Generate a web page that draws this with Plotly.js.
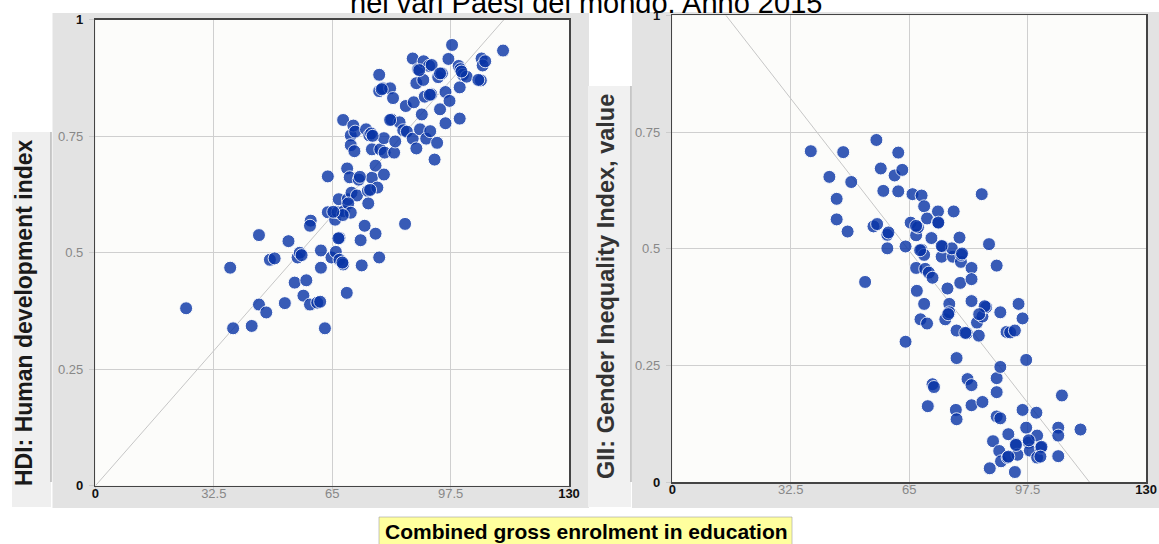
<!DOCTYPE html>
<html>
<head>
<meta charset="utf-8">
<script src="https://cdn.plot.ly/plotly-3.0.1.min.js"></script>
<style>
  html, body { margin: 0; padding: 0; background: #ffffff; overflow: hidden; }
  #chart { width: 1159px; height: 544px; }
</style>
</head>
<body>
<div id="chart"></div>
<script>
// ---------- DATA ----------
const titleText = "nei vari Paesi del mondo. Anno 2015";
const xLabel = "Combined gross enrolment in education";
const hdiLabel = "HDI: Human development index";
const giiLabel = "GII: Gender Inequality Index, value";

const xTickVals = [0, 32.5, 65, 97.5, 130];
const xTickLabels = ["0", "32.5", "65", "97.5", "130"];
const yTickVals = [0, 0.25, 0.5, 0.75, 1];
const yTickLabels = ["0", "0.25", "0.5", "0.75", "1"];

// Left chart: enrolment vs HDI
const hdiX = [24.9,37.0,37.8,42.9,44.9,44.9,46.9,47.9,49.2,52.0,53.0,54.7,55.5,56.1,56.6,57.1,57.9,58.9,59.1,58.9,
  60.9,61.7,61.9,61.9,63.0,63.8,63.8,64.8,65.8,66.0,66.5,66.8,67.0,67.0,68.0,68.0,68.2,69.0,69.1,69.3,
  69.8,70.1,70.1,70.3,70.8,71.1,71.3,71.8,72.3,72.8,73.1,73.9,74.3,74.8,75.2,75.7,75.9,75.9,76.9,76.9,
  77.4,77.9,77.9,77.9,78.2,78.9,79.2,79.2,79.4,80.9,81.3,81.7,82.0,82.3,83.5,84.5,85.0,85.2,85.5,87.1,
  87.1,87.4,88.1,88.1,88.6,89.1,89.6,90.1,90.4,90.8,91.6,91.9,92.2,93.1,93.8,94.1,94.6,95.1,96.1,96.1,
  96.9,97.2,97.9,99.7,100.0,100.0,100.2,100.9,105.8,106.0,106.3,107.0,111.9,
  69.4,74.9,70.1,67.9,90.0,92.3,75.4,88.9,101.9,105.1,80.9,76.1,78.6,91.8,65.3,72.6,94.6,100.5,66.7,67.8];
const hdiY = [0.381,0.468,0.338,0.343,0.538,0.389,0.372,0.485,0.488,0.392,0.525,0.436,0.490,0.500,0.495,0.408,0.441,0.389,0.569,0.558,
  0.393,0.395,0.505,0.468,0.338,0.664,0.587,0.490,0.571,0.502,0.587,0.615,0.532,0.485,0.475,0.785,0.589,0.414,0.681,0.615,
  0.662,0.752,0.731,0.629,0.773,0.718,0.760,0.623,0.657,0.527,0.473,0.558,0.765,0.633,0.752,0.756,0.661,0.722,0.687,0.541,
  0.640,0.882,0.490,0.847,0.722,0.853,0.746,0.668,0.715,0.853,0.786,0.832,0.715,0.739,0.780,0.763,0.562,0.815,0.760,0.917,
  0.745,0.823,0.724,0.864,0.894,0.765,0.797,0.911,0.835,0.745,0.901,0.761,0.840,0.700,0.736,0.877,0.808,0.885,0.778,0.845,
  0.916,0.826,0.946,0.901,0.788,0.855,0.894,0.882,0.870,0.917,0.902,0.911,0.934,
  0.606,0.606,0.586,0.581,0.871,0.903,0.635,0.892,0.878,0.871,0.785,0.751,0.851,0.839,0.588,0.663,0.885,0.889,0.531,0.479];
const hdiTrendX = [0, 112.1];
const hdiTrendY = [0, 1];

// Right chart: enrolment vs GII
const giiX = [38.0,43.1,45.1,45.1,46.9,48.1,49.1,52.9,55.2,56.0,56.2,57.2,57.9,59.0,59.0,59.3,61.0,62.0,62.0,63.1,
  64.0,64.0,65.4,65.9,66.9,66.9,67.1,67.4,68.1,68.4,68.4,69.1,69.1,69.1,69.4,69.9,69.9,70.1,70.4,71.1,
  71.4,71.4,71.8,72.9,72.9,73.9,74.2,74.9,75.5,76.0,76.0,77.0,77.2,77.8,78.0,78.0,78.0,78.8,79.0,79.2,
  79.3,80.8,81.0,82.1,82.1,82.1,82.1,82.1,83.6,84.1,84.9,85.1,85.1,86.1,86.9,87.1,88.0,89.0,89.0,89.0,
  89.0,89.7,90.0,90.0,90.0,90.2,91.7,92.0,92.2,92.7,94.0,94.0,94.2,94.7,95.0,96.1,96.1,97.1,97.1,97.8,
  98.1,99.9,100.1,100.1,101.1,105.9,105.9,105.9,106.9,112.0,
  94.3,101.3,101.0,92.2,97.8,75.7,80.4,85.7,84.2,66.9,73.0,68.0,76.7,79.5,73.9];
const giiY = [0.709,0.654,0.607,0.563,0.707,0.537,0.643,0.429,0.548,0.733,0.553,0.672,0.624,0.530,0.501,0.535,0.657,0.706,0.623,0.669,
  0.505,0.301,0.556,0.617,0.529,0.459,0.410,0.546,0.349,0.614,0.498,0.591,0.382,0.487,0.457,0.565,0.340,0.163,0.449,0.523,
  0.438,0.210,0.204,0.557,0.580,0.483,0.505,0.349,0.415,0.382,0.364,0.483,0.580,0.155,0.325,0.266,0.135,0.524,0.427,0.472,
  0.487,0.319,0.221,0.459,0.435,0.388,0.208,0.165,0.342,0.314,0.617,0.355,0.172,0.375,0.510,0.030,0.088,0.223,0.193,0.464,
  0.141,0.067,0.247,0.137,0.364,0.045,0.322,0.053,0.103,0.321,0.325,0.022,0.082,0.059,0.382,0.351,0.155,0.262,0.117,0.085,
  0.068,0.149,0.100,0.053,0.074,0.117,0.100,0.056,0.186,0.113,
  0.080,0.076,0.055,0.055,0.090,0.360,0.320,0.377,0.360,0.549,0.556,0.497,0.501,0.490,0.506];
const giiTrendX = [14.7, 114.5];
const giiTrendY = [1, 0];

// ---------- LAYOUT HELPERS ----------
const W = 1159, H = 544;
const px = p => p / W;          // pixel x -> paper
const py = p => 1 - p / H;      // pixel y (from top) -> paper

const leftPlot  = {x0: 95.4,  x1: 569.0,  y0: 19.8, y1: 485.8};
const rightPlot = {x0: 672.3, x1: 1146.1, y0: 15.3, y1: 482.3};

function tickText(labels) {
  return labels.map((t, i) => (i === 0 || i === labels.length - 1)
    ? '<b><span style="color:#111111">' + t + '</span></b>' : t);
}

function xAxis(p, anchor) {
  return {
    domain: [px(p.x0), px(p.x1)], anchor: anchor,
    range: [0, 130], fixedrange: true,
    tickmode: 'array', tickvals: xTickVals, ticktext: tickText(xTickLabels),
    showgrid: true, gridcolor: '#cfcfcf', gridwidth: 1, zeroline: false,
    showline: true, mirror: true, linecolor: '#444444', linewidth: 1.5,
    ticks: 'outside', ticklen: 4, tickcolor: '#cccccc',
    ticklabelstandoff: -9,
    tickfont: {family: 'Liberation Sans, Arial, sans-serif', size: 13, color: '#888888'}
  };
}
function yAxis(p, anchor) {
  return {
    domain: [py(p.y1), py(p.y0)], anchor: anchor,
    range: [0, 1], fixedrange: true,
    tickmode: 'array', tickvals: yTickVals, ticktext: tickText(yTickLabels),
    showgrid: true, gridcolor: '#cfcfcf', gridwidth: 1, zeroline: false,
    showline: true, mirror: true, linecolor: '#444444', linewidth: 1.5,
    ticks: 'outside', ticklen: 5, tickcolor: '#cccccc',
    ticklabelstandoff: 3,
    tickfont: {family: 'Liberation Sans, Arial, sans-serif', size: 13, color: '#888888'}
  };
}

function rect(x0, y0, x1, y1, fill, line) {
  return {type: 'rect', xref: 'paper', yref: 'paper', layer: 'below',
    x0: px(x0), x1: px(x1), y0: py(y1), y1: py(y0),
    fillcolor: fill, line: line || {width: 0}};
}
function vline(x, y0, y1, color) {
  return {type: 'line', xref: 'paper', yref: 'paper', layer: 'below',
    x0: px(x), x1: px(x), y0: py(y1), y1: py(y0), line: {color: color, width: 1}};
}

const markerStyle = {
  size: 13, color: 'rgb(8,52,166)', opacity: 0.8,
  line: {color: '#ffffff', width: 1}
};

const traces = [
  {type: 'scatter', mode: 'lines', x: hdiTrendX, y: hdiTrendY, xaxis: 'x', yaxis: 'y',
   line: {color: '#c6c6c6', width: 1}, hoverinfo: 'skip'},
  {type: 'scatter', mode: 'markers', x: hdiX, y: hdiY, xaxis: 'x', yaxis: 'y',
   marker: markerStyle, name: hdiLabel},
  {type: 'scatter', mode: 'lines', x: giiTrendX, y: giiTrendY, xaxis: 'x2', yaxis: 'y2',
   line: {color: '#c6c6c6', width: 1}, hoverinfo: 'skip'},
  {type: 'scatter', mode: 'markers', x: giiX, y: giiY, xaxis: 'x2', yaxis: 'y2',
   marker: markerStyle, name: giiLabel}
];

const layout = {
  width: W, height: H,
  margin: {l: 0, r: 0, t: 0, b: 0, pad: 0},
  paper_bgcolor: '#ffffff', plot_bgcolor: 'rgba(0,0,0,0)',
  showlegend: false,
  xaxis: xAxis(leftPlot, 'y'),
  yaxis: yAxis(leftPlot, 'x'),
  xaxis2: xAxis(rightPlot, 'y2'),
  yaxis2: yAxis(rightPlot, 'x2'),
  shapes: [
    rect(52.5, 13, 589, 508, '#e3e3e3'),
    rect(632, 12, 1159, 508, '#e3e3e3'),
    rect(12, 132, 51, 507, '#efefef'),
    vline(51, 132, 482, '#9a9a9a'),
    rect(588, 86, 631, 507, '#f1f1f1'),
    vline(631, 86, 482, '#9a9a9a'),
    rect(leftPlot.x0, leftPlot.y0, leftPlot.x1, leftPlot.y1, '#fcfcfa'),
    rect(rightPlot.x0, rightPlot.y0, rightPlot.x1, rightPlot.y1, '#fcfcfa'),
    rect(379, 517, 792, 548, '#ffff9e', {color: 'rgba(160,160,160,0.6)', width: 1})
  ],
  annotations: [
    {text: titleText, xref: 'paper', yref: 'paper', x: px(586), y: py(3),
     xanchor: 'center', yanchor: 'middle', showarrow: false,
     font: {family: 'Liberation Sans, Arial, sans-serif', size: 29, color: '#000000'}},
    {text: hdiLabel, xref: 'paper', yref: 'paper', x: px(24), y: py(313),
     xanchor: 'center', yanchor: 'middle', showarrow: false, textangle: -90,
     font: {family: 'Liberation Sans, Arial, sans-serif', size: 23, color: '#1a1a1a', weight: 'bold'}},
    {text: giiLabel, xref: 'paper', yref: 'paper', x: px(606), y: py(287),
     xanchor: 'center', yanchor: 'middle', showarrow: false, textangle: -90,
     font: {family: 'Liberation Sans, Arial, sans-serif', size: 23.5, color: '#333333', weight: 'bold'}},
    {text: xLabel, xref: 'paper', yref: 'paper', x: px(586), y: py(531),
     xanchor: 'center', yanchor: 'middle', showarrow: false,
     font: {family: 'Liberation Sans, Arial, sans-serif', size: 21, color: '#000000', weight: 'bold'}}
  ]
};

Plotly.newPlot('chart', traces, layout, {staticPlot: true, displayModeBar: false});
</script>
</body>
</html>
